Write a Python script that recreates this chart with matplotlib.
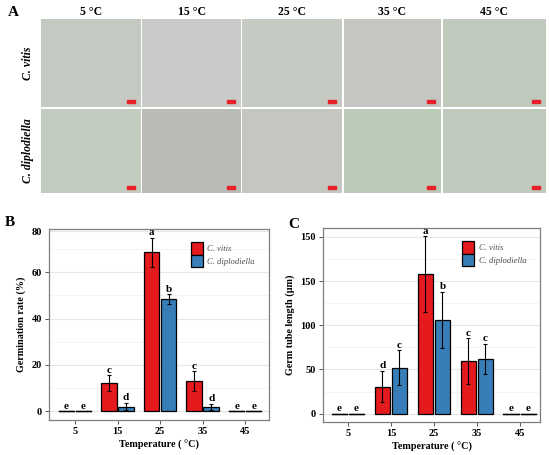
import numpy as np
import matplotlib.pyplot as plt
from matplotlib.patches import Rectangle

# data
temps = ["5", "15", "25", "35", "45"]
species = ["C. vitis", "C. diplodiella"]
germ_vitis = [0, 12.1, 68.6, 13.1, 0]
germ_vitis_sd = [0, 3.4, 6.2, 4.1, 0]
germ_dip = [0, 2.1, 48.3, 2.0, 0]
germ_dip_sd = [0, 1.5, 2.2, 1.3, 0]
germ_vitis_let = ["e", "c", "a", "c", "e"]
germ_dip_let = ["e", "d", "b", "d", "e"]

tube_vitis = [0, 30.5, 158, 59.5, 0]
tube_vitis_sd = [0, 17.5, 42.5, 25.5, 0]
tube_dip = [0, 52, 106, 62, 0]
tube_dip_sd = [0, 19.5, 32, 17, 0]
tube_vitis_let = ["e", "d", "a", "c", "e"]
tube_dip_let = ["e", "c", "b", "c", "e"]

# tint of each micrograph panel (row, col)
micro_tint = [["#c4cac1", "#c9cbc8", "#c5cac2", "#c3c6c1", "#bfcabd"],
              ["#c2ccbf", "#b9bcb6", "#c3c7c0", "#bccab9", "#bfcabc"]]

RED = "#e41a1c"
BLUE = "#377eb8"
plt.rcParams["font.family"] = ["Liberation Serif", "DejaVu Serif"]

W, H = 550, 455
fig = plt.figure(figsize=(W / 100, H / 100), dpi=100)


def px(x0, y0, x1, y1):
    return [x0 / W, 1 - y1 / H, (x1 - x0) / W, (y1 - y0) / H]


# panel A
col_x = [(41, 141), (142, 241), (242, 342), (344, 441), (443, 546)]
row_y = [(19, 107), (109, 193)]
for r, (y0, y1) in enumerate(row_y):
    for c, (x0, x1) in enumerate(col_x):
        a = fig.add_axes(px(x0, y0, x1, y1))
        a.set_facecolor(micro_tint[r][c])
        a.set_xlim(0, 1)
        a.set_ylim(0, 1)
        a.add_patch(Rectangle((0.86, 0.05), 0.08, 0.03, color="#e8202a"))
        a.set_xticks([])
        a.set_yticks([])
        for s in a.spines.values():
            s.set_visible(False)
for c, (x0, x1) in enumerate(col_x):
    fig.text((x0 + x1) / 2 / W, 1 - 12 / H, temps[c] + " °C", ha="center", va="center",
             fontsize=8.5, fontweight="bold")
fig.text(28 / W, 1 - 63 / H, "C. vitis", rotation=90, ha="center", va="center",
         fontsize=8.5, fontweight="bold", style="italic")
fig.text(28 / W, 1 - 151 / H, "C. diplodiella", rotation=90, ha="center", va="center",
         fontsize=8.5, fontweight="bold", style="italic")
fig.text(13 / W, 1 - 12 / H, "A", ha="center", va="center", fontsize=11, fontweight="bold")
fig.text(10 / W, 1 - 222 / H, "B", ha="center", va="center", fontsize=11, fontweight="bold")
fig.text(294 / W, 1 - 225 / H, "C", ha="center", va="center", fontsize=11, fontweight="bold")


def bar_panel(rect, xlim, v1, s1, l1, v2, s2, l2, ylab, ylim, yticks,
              yticklabels, minor, pad, hide_top_tick):
    ax = fig.add_axes(px(*rect))
    x = np.arange(len(temps))
    w, off = 0.36, 0.2
    for vals, sds, lets, col, sign, name in [(v1, s1, l1, RED, -1, species[0]),
                                             (v2, s2, l2, BLUE, 1, species[1])]:
        xs = x + sign * off
        ax.bar(xs, vals, width=w, color=col, edgecolor="black", linewidth=0.9,
               label=name, zorder=3)
        for xi, v, sd, lt in zip(xs, vals, sds, lets):
            if v > 0:
                ax.errorbar(xi, v, yerr=sd, color="black", capsize=1.6, elinewidth=0.8,
                            capthick=0.8, zorder=4)
            else:
                ax.plot([xi - w / 2, xi + w / 2], [0, 0], color="black", lw=1.0, zorder=4)
            ax.text(xi, v + sd + pad, lt, ha="center", va="bottom", fontsize=8,
                    fontweight="bold", zorder=5)
    ax.set_xlim(*xlim)
    ax.set_ylim(*ylim)
    ax.set_xticks(x)
    ax.set_xticklabels(temps, fontsize=7.5, fontweight="bold")
    ax.set_yticks(yticks)
    ax.set_yticklabels(yticklabels, fontsize=7.5, fontweight="bold")
    ax.set_yticks(minor, minor=True)
    ax.tick_params(axis="y", which="minor", length=0)
    ax.tick_params(which="major", length=3, color="#555555", width=0.7, pad=2)
    if hide_top_tick:
        ax.yaxis.get_major_ticks()[-1].tick1line.set_visible(False)
    ax.grid(axis="y", which="major", color="#e6e6e6", lw=0.8, zorder=0)
    ax.grid(axis="y", which="minor", color="#f2f2f2", lw=0.6, zorder=0)
    for s in ax.spines.values():
        s.set_color("#7f7f7f")
        s.set_linewidth(0.9)
    ax.set_xlabel("Temperature ( °C)", fontsize=7.3, fontweight="bold", labelpad=3)
    ax.set_ylabel(ylab, fontsize=7.3, fontweight="bold", labelpad=4)
    leg = ax.legend(loc="upper right", bbox_to_anchor=(0.96, 0.96), frameon=False,
                    fontsize=6.2, handlelength=1.4, handleheight=1.9, labelspacing=0.0,
                    borderaxespad=0.2, handletextpad=0.5)
    for t in leg.get_texts():
        t.set_fontstyle("italic")
        t.set_color("#4d4d4d")
    return ax


bar_panel((49, 229, 269, 420), (-0.61, 4.56), germ_vitis, germ_vitis_sd, germ_vitis_let,
          germ_dip, germ_dip_sd, germ_dip_let, "Germination rate (%)",
          (-3.7, 78.6), [0, 20, 40, 60, 77.6], ["0", "20", "40", "60", "80"],
          [10, 30, 50, 70], 0.3, True)
bar_panel((323, 228, 540, 422), (-0.58, 4.47), tube_vitis, tube_vitis_sd, tube_vitis_let,
          tube_dip, tube_dip_sd, tube_dip_let, "Germ tube length (μm)",
          (-9.5, 210), [0, 50, 100, 150, 200], ["0", "50", "100", "150", "150"],
          [25, 75, 125, 175], 1.0, False)

fig.savefig("out.png", dpi=100)
